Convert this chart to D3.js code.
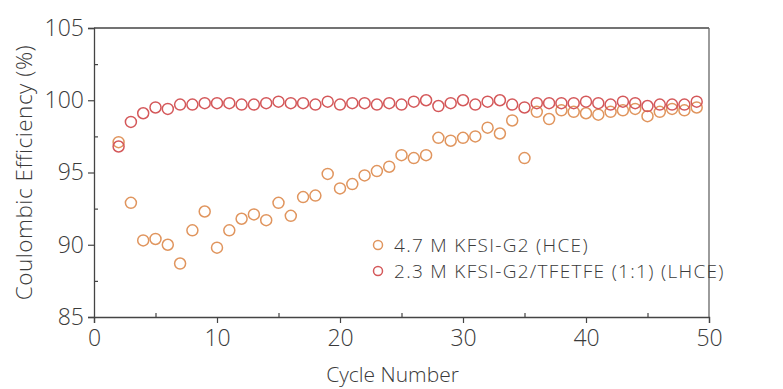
<!DOCTYPE html>
<html>
<head>
<meta charset="utf-8">
<script src="https://d3js.org/d3.v7.min.js"></script>
<style>
  body { margin: 0; background: #fff; }
  text { font-family: "Open Sans", "Noto Sans", sans-serif; font-weight: 300; fill: #3a3a3a; }
</style>
</head>
<body>
<div id="chart"></div>
<script>
// cycle numbers
var cycles = d3.range(2, 50);

// 4.7 M KFSI-G2 (HCE)
var hceValues = [97.1, 92.9, 90.3, 90.4, 90.0, 88.7, 91.0, 92.3, 89.8, 91.0,
  91.8, 92.1, 91.7, 92.9, 92.0, 93.3, 93.4, 94.9, 93.9, 94.2,
  94.8, 95.1, 95.4, 96.2, 96.0, 96.2, 97.4, 97.2, 97.4, 97.5,
  98.1, 97.7, 98.6, 96.0, 99.2, 98.7, 99.3, 99.2, 99.1, 99.0,
  99.2, 99.3, 99.4, 98.9, 99.2, 99.4, 99.3, 99.5];

// 2.3 M KFSI-G2/TFETFE (1:1) (LHCE)
var lhceValues = [96.8, 98.5, 99.1, 99.5, 99.4, 99.7, 99.7, 99.8, 99.8, 99.8,
  99.7, 99.7, 99.8, 99.9, 99.8, 99.8, 99.7, 99.9, 99.7, 99.8,
  99.8, 99.7, 99.8, 99.7, 99.9, 100.0, 99.6, 99.8, 100.0, 99.7,
  99.9, 100.0, 99.7, 99.5, 99.8, 99.8, 99.8, 99.8, 99.9, 99.8,
  99.7, 99.9, 99.8, 99.6, 99.7, 99.7, 99.7, 99.9];

var seriesNames = ["4.7 M KFSI-G2 (HCE)", "2.3 M KFSI-G2/TFETFE (1:1) (LHCE)"];
var seriesColors = ["#e0955e", "#d4585a"];
var xTicks = [0, 10, 20, 30, 40, 50];
var yTicks = [85, 90, 95, 100, 105];

var W = 783, H = 389;
var margin = {top: 28, right: 74, bottom: 72, left: 94};
var width = W - margin.left - margin.right,
    height = H - margin.top - margin.bottom;

var svg = d3.select("#chart").append("svg")
    .attr("width", W)
    .attr("height", H);

var g = svg.append("g")
    .attr("transform", "translate(" + margin.left + "," + margin.top + ")");

var x = d3.scaleLinear().domain([0, 50]).range([0, width]);
var y = d3.scaleLinear().domain([85, 105]).range([height, 0]);

// frame (top + right)
g.append("line").attr("x1", 0).attr("x2", width).attr("y1", 0).attr("y2", 0)
    .attr("stroke", "#444").attr("stroke-width", 1.3);
g.append("line").attr("x1", width).attr("x2", width).attr("y1", 0).attr("y2", height)
    .attr("stroke", "#666").attr("stroke-width", 1.3);

// minor ticks (inward)
var xMinor = g.append("g")
    .attr("transform", "translate(0," + height + ")")
    .call(d3.axisBottom(x).tickValues([5, 15, 25, 35, 45]).tickSize(-4).tickFormat(""));
var yMinor = g.append("g")
    .call(d3.axisLeft(y).tickValues([87.5, 92.5, 97.5, 102.5]).tickSize(-4).tickFormat(""));

// major axes
var xAxis = g.append("g")
    .attr("transform", "translate(0," + height + ")")
    .call(d3.axisBottom(x).tickValues(xTicks).tickSize(6).tickPadding(3));
var yAxis = g.append("g")
    .call(d3.axisLeft(y).tickValues(yTicks).tickSize(6).tickPadding(4));

[xMinor, yMinor, xAxis, yAxis].forEach(function (a) {
    a.selectAll("path").attr("stroke", "#444").attr("stroke-width", 1.3);
    a.selectAll("line").attr("stroke", "#444").attr("stroke-width", 1.2);
    a.selectAll("text").style("font-size", "23px").attr("fill", "#3a3a3a");
});
xMinor.select("path").remove();
yMinor.select("path").remove();
xAxis.selectAll("text").attr("dy", "0.85em");

// axis titles
svg.append("text")
    .attr("x", margin.left + width / 2 - 9)
    .attr("y", 382)
    .attr("text-anchor", "middle")
    .style("font-size", "21px")
    .text("Cycle Number");

svg.append("text")
    .attr("transform", "translate(32," + (margin.top + height / 2) + ")rotate(-90)")
    .attr("text-anchor", "middle")
    .style("font-size", "22.5px")
    .style("letter-spacing", "0.5px")
    .text("Coulombic Efficiency (%)");

// data points
var allSeries = [hceValues, lhceValues];
allSeries.forEach(function (vals, i) {
    g.selectAll(".pt" + i)
        .data(vals)
        .enter()
        .append("circle")
        .attr("class", "pt" + i)
        .attr("cx", function (d, j) { return x(cycles[j]); })
        .attr("cy", function (d) { return y(d); })
        .attr("r", 5.5)
        .attr("fill", "none")
        .attr("stroke", seriesColors[i])
        .attr("stroke-width", 1.5);
});

// legend
var legend = svg.append("g").attr("transform", "translate(378,245)");
seriesNames.forEach(function (name, i) {
    var row = legend.append("g").attr("transform", "translate(0," + (i * 26) + ")");
    row.append("circle").attr("r", 4.5).attr("fill", "none")
        .attr("stroke", seriesColors[i]).attr("stroke-width", 1.5);
    row.append("text").attr("x", 16).attr("dy", "0.35em")
        .style("font-size", "19px")
        .style("letter-spacing", "1.3px")
        .text(name);
});
</script>
</body>
</html>
